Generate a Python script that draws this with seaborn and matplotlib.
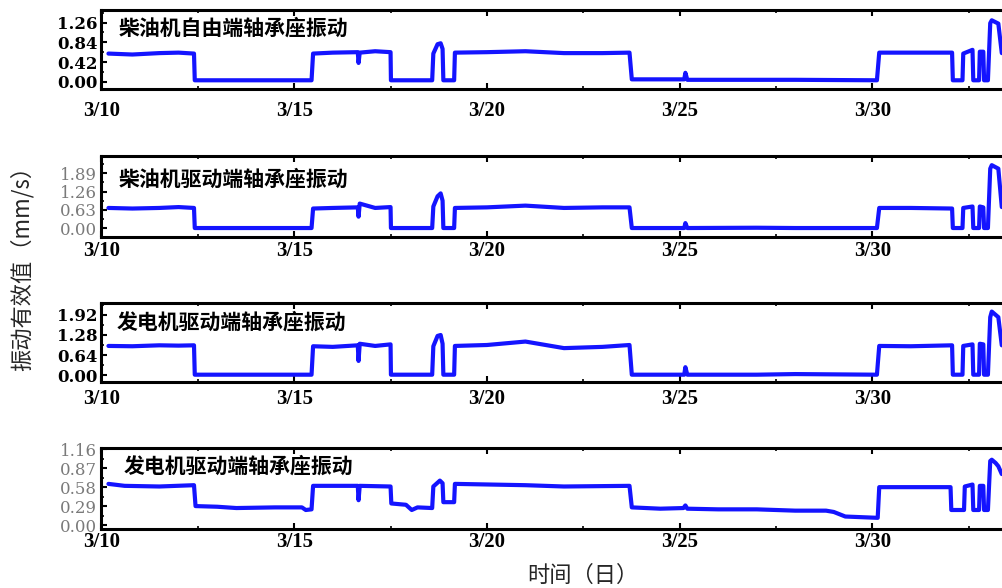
import matplotlib
matplotlib.use("Agg")
import matplotlib.pyplot as plt
from matplotlib.ticker import MultipleLocator, AutoMinorLocator
import seaborn as sns

# 风格设置
sns.set_theme(style="ticks")
plt.rcParams['font.family'] = ['Noto Sans CJK SC', 'DejaVu Sans']
plt.rcParams['axes.unicode_minus'] = False

# ---- 数据（横轴: 自 3/10 起的天数）----
# 前三个测点共用的时间节点
t_main = [0.18, 0.8, 1.5, 2.0, 2.40, 2.42, 5.45, 5.49, 6.0, 6.65, 6.67, 6.70, 7.1, 7.50,
          7.51, 8.58, 8.61, 8.72, 8.80, 8.85, 8.87, 9.15, 9.17, 10.0, 11.0, 12.0, 13.0,
          13.70, 13.76, 15.12, 15.15, 15.20, 17.0, 18.0, 20.12, 20.18, 21.0, 22.07, 22.09,
          22.34, 22.36, 22.60, 22.62, 22.77, 22.79, 22.88, 22.90, 23.00, 23.06, 23.10,
          23.27, 23.36]
# 柴油机自由端轴承座振动
v1 = [0.60, 0.58, 0.61, 0.62, 0.60, 0.03, 0.03, 0.60, 0.62, 0.63, 0.40, 0.62, 0.65, 0.63,
      0.03, 0.03, 0.60, 0.80, 0.82, 0.70, 0.03, 0.03, 0.62, 0.63, 0.65, 0.61, 0.61,
      0.62, 0.05, 0.05, 0.19, 0.04, 0.04, 0.04, 0.03, 0.62, 0.62, 0.62, 0.03,
      0.03, 0.60, 0.68, 0.03, 0.03, 0.64, 0.64, 0.03, 0.03, 1.25, 1.31,
      1.24, 0.61]
# 柴油机驱动端轴承座振动
v2 = [0.70, 0.68, 0.70, 0.73, 0.70, 0.01, 0.01, 0.68, 0.70, 0.72, 0.40, 0.85, 0.70, 0.73,
      0.01, 0.01, 0.75, 1.10, 1.20, 0.95, 0.01, 0.01, 0.70, 0.72, 0.78, 0.70, 0.72,
      0.72, 0.01, 0.01, 0.18, 0.01, 0.02, 0.01, 0.01, 0.70, 0.70, 0.68, 0.01,
      0.01, 0.70, 0.75, 0.01, 0.01, 0.75, 0.72, 0.01, 0.01, 2.05, 2.17,
      2.05, 0.73]
# 发电机驱动端轴承座振动
v3 = [0.93, 0.92, 0.95, 0.94, 0.95, 0.01, 0.01, 0.92, 0.90, 0.95, 0.45, 1.00, 0.93, 0.98,
      0.01, 0.01, 0.92, 1.25, 1.28, 1.00, 0.01, 0.01, 0.93, 0.96, 1.07, 0.86, 0.90,
      0.96, 0.01, 0.01, 0.25, 0.01, 0.01, 0.03, 0.01, 0.93, 0.92, 0.95, 0.01,
      0.01, 0.93, 0.98, 0.01, 0.01, 1.00, 0.98, 0.01, 0.01, 1.85, 2.03,
      1.85, 0.95]
# 第四个测点（发电机驱动端轴承座振动）
t4 = [0.18, 0.6, 1.5, 2.40, 2.44, 3.0, 3.5, 4.5, 5.2, 5.3, 5.45, 5.49, 6.0, 6.65, 6.67,
      6.70, 7.50, 7.52, 7.9, 8.05, 8.2, 8.58, 8.61, 8.78, 8.85, 8.87, 9.15, 9.17, 11.0,
      12.0, 13.70, 13.76, 14.5, 15.1, 15.15, 15.2, 16.0, 17.0, 18.0, 18.8, 19.0, 19.3,
      20.14, 20.18, 21.5, 22.03, 22.05, 22.38, 22.40, 22.60, 22.62, 22.77, 22.79, 22.88,
      22.90, 23.00, 23.06, 23.10, 23.2, 23.27, 23.36]
v4 = [0.63, 0.60, 0.59, 0.61, 0.29, 0.28, 0.26, 0.27, 0.27, 0.23, 0.24, 0.60, 0.60, 0.60, 0.38,
      0.60, 0.59, 0.33, 0.31, 0.23, 0.27, 0.26, 0.59, 0.68, 0.64, 0.35, 0.35, 0.63, 0.61,
      0.59, 0.60, 0.27, 0.25, 0.26, 0.30, 0.25, 0.24, 0.24, 0.22, 0.22, 0.20, 0.13,
      0.11, 0.58, 0.58, 0.58, 0.23, 0.23, 0.59, 0.62, 0.23, 0.23, 0.60, 0.60,
      0.23, 0.23, 0.98, 1.00, 0.95, 0.90, 0.78]

titles = ["柴油机自由端轴承座振动", "柴油机驱动端轴承座振动",
          "发电机驱动端轴承座振动", "发电机驱动端轴承座振动"]
yticks = [[0.00, 0.42, 0.84, 1.26], [0.00, 0.63, 1.26, 1.89],
          [0.00, 0.64, 1.28, 1.92], [0.00, 0.29, 0.58, 0.87, 1.16]]
ylims = [(-0.156, 1.53), (-0.288, 2.485), (-0.214, 2.294), (-0.061, 1.175)]
xtick_pos = [0, 5, 10, 15, 20]
xtick_lab = ["3/10", "3/15", "3/20", "3/25", "3/30"]

series = [(t_main, v1), (t_main, v2), (t_main, v3), (t4, v4)]

# 各子图在画面中的像素位置 (top, bottom)
W, H = 1003, 588
rows = [(10, 89), (156, 236.7), (303.3, 381.7), (448.3, 529)]
title_y = [0.77, 0.71, 0.765, 0.78]
title_x = [0.019, 0.019, 0.017, 0.024]
xpads = [9, 3, 5, 2]
ylab_style = [("black", "bold"), ("#7a7a7a", "normal"), ("black", "bold"), ("#7a7a7a", "normal")]

fig = plt.figure(figsize=(W / 100, H / 100), dpi=100)
left_px, right_px = 101.5, 1010
px_per_day = 38.54

for i, ((t, v), (top, bot)) in enumerate(zip(series, rows)):
    ax = fig.add_axes([left_px / W, 1 - bot / H, (right_px - left_px) / W, (bot - top) / H])
    sns.lineplot(x=t, y=v, ax=ax, sort=False, estimator=None, color="#1414ff",
                 linewidth=3)
    ax.set_xlim(0, (right_px - left_px) / px_per_day)
    ax.set_ylim(*ylims[i])

    ax.set_xticks(xtick_pos)
    ax.set_xticklabels(xtick_lab, fontfamily="Liberation Serif", fontweight="bold",
                       fontsize=15, color="black")
    ax.xaxis.set_minor_locator(MultipleLocator(2.5))
    ax.set_yticks(yticks[i])
    c, w = ylab_style[i]
    ax.set_yticklabels([f"{y:.2f}" for y in yticks[i]], fontfamily="DejaVu Serif",
                       fontweight=w, fontsize=12, color=c)
    ax.yaxis.set_minor_locator(AutoMinorLocator(2))

    ax.tick_params(axis="x", which="both", direction="in", top=True, pad=xpads[i])
    ax.tick_params(axis="y", which="both", direction="in", pad=3)
    ax.tick_params(which="major", length=4, width=1.5, color="black")
    ax.tick_params(which="minor", length=2.5, width=1.2, color="black")
    for s in ax.spines.values():
        s.set_linewidth(2.2)
        s.set_color("black")

    ax.set_xlabel("")
    ax.set_ylabel("")
    ax.text(title_x[i], title_y[i], titles[i], transform=ax.transAxes, fontsize=15,
            fontweight="bold", ha="left", va="center", color="black")

fig.text(22 / W, 1 - 263 / H, "振动有效值（mm/s）", rotation=90, fontsize=16,
         ha="center", va="center")
fig.text(583 / W, 1 - 575 / H, "时间（日）", fontsize=16, ha="center", va="center")

fig.savefig("out.png", dpi=100)
